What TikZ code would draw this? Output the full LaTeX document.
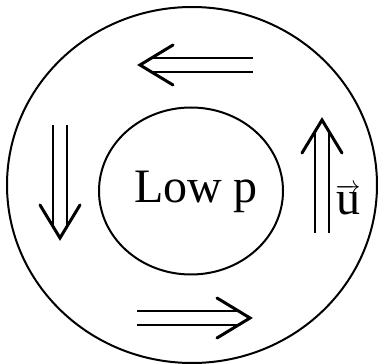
\documentclass[tikz,border=0pt]{standalone}
\usepackage{fontspec}
\setmainfont{Liberation Serif}
\usetikzlibrary{shapes.geometric}

\tikzset{
	ringline/.style={
			draw=black,
			line width=2pt
		},
	coreline/.style={
			ellipse,
			draw=black,
			line width=2pt,
			minimum width=184pt,
			minimum height=167pt,
			inner sep=0pt
		},
	bigtext/.style={
			inner sep=0pt,
			font=\fontsize{48}{56}\selectfont
		},
	rail/.style={
			line width=1.7pt
		},
	barb/.style={
			line width=3pt,
			line cap=round,
			line join=miter
		},
	pics/flow/.style={
			code={
					\draw[rail] (0,-7) -- (100,-7) (0,7) -- (100,7);
					\draw[barb] (80,-20) -- (113,0) -- (80,20);
				}
		}
}

\begin{document}
\begin{tikzpicture}[x=1pt, y=1pt]
\useasboundingbox (0,0) rectangle (378,364);

\draw[ringline] (192,179) ellipse [x radius=185, y radius=178];
\node[coreline] (core) at (191,173) {};
\node[bigtext] (lowp) at (196,172) {Low p};

\pic at (253,299) [rotate=180] {flow};
\pic at (137,46) {flow};
\pic at (60,239) [rotate=-90] {flow};
\pic at (322,131) [rotate=90] {flow};

\node[bigtext, anchor=base] (vel) at (348,149) {$\overrightarrow{\textrm{u}}$};
\end{tikzpicture}
\end{document}
